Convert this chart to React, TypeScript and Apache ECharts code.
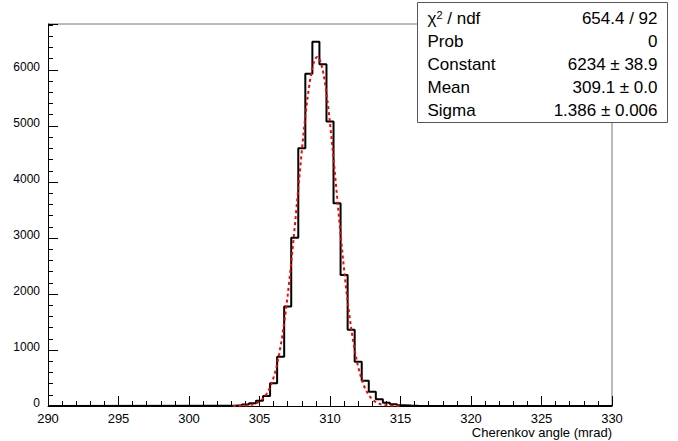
import * as echarts from 'echarts';
import { useEffect, useRef } from 'react';

// bin centres (mrad), 0.5 mrad wide; counts
const binCenters = [302.5, 303, 303.5, 304, 304.5, 305, 305.5, 306, 306.5, 307, 307.5, 308, 308.5, 309,
  309.5, 310, 310.5, 311, 311.5, 312, 312.5, 313, 313.5, 314, 314.5, 315, 315.5, 316];
const binCounts = [3, 6, 12, 25, 50, 95, 180, 405, 880, 1775, 3005, 4600, 5930, 6505,
  6100, 5080, 3620, 2340, 1360, 790, 450, 255, 120, 60, 30, 15, 8, 4];
const binWidth = 0.5;
const fitConstant = 6234;
const fitMean = 309.1;
const fitSigma = 1.386;
const statRows = [
  ['{l|χ}{s|2}{l| / ndf}', '654.4 / 92'],
  ['Prob', '0'],
  ['Constant', '6234 ± 38.9'],
  ['Mean', '309.1 ± 0.0'],
  ['Sigma', '1.386 ± 0.006'],
];

export default function App() {
  const ref = useRef<HTMLDivElement>(null);

  useEffect(() => {
    const el = ref.current;
    if (!el) return undefined;
    const chart = echarts.init(el, undefined, { renderer: 'svg' });

    const steps: number[][] = [[290, 0]];
    binCenters.forEach((c, i) => {
      steps.push([c - binWidth / 2, binCounts[i]], [c + binWidth / 2, binCounts[i]]);
    });
    steps.push([330, 0]);
    const fit: number[][] = [];
    for (let x = 290; x <= 330.001; x += 0.1) {
      const y = fitConstant * Math.exp(-0.5 * ((x - fitMean) / fitSigma) ** 2);
      if (y > 0.5) fit.push([x, y]);
    }

    const font = 'Liberation Sans, Arial, sans-serif';
    chart.setOption({
      animation: false,
      grid: { left: 48, right: 66, top: 24, bottom: 35 },
      xAxis: {
        type: 'value', min: 290, max: 330, interval: 5,
        name: 'Cherenkov angle (mrad)', nameLocation: 'end', nameGap: 0,
        nameTextStyle: { fontFamily: font, fontSize: 13, color: '#000', align: 'right', verticalAlign: 'top', padding: [20, 0, 0, 0] },
        axisLine: { lineStyle: { color: '#000' } },
        axisTick: { inside: true, length: 10, lineStyle: { color: '#000' } },
        minorTick: { show: true, splitNumber: 5, length: 5, lineStyle: { color: '#000' } },
        axisLabel: { fontFamily: font, fontSize: 13, color: '#000', margin: 6 },
        splitLine: { show: false },
      },
      yAxis: {
        type: 'value', min: 0, max: 6820, interval: 1000,
        axisLine: { show: true, lineStyle: { color: '#000' } },
        axisTick: { inside: true, length: 10, lineStyle: { color: '#000' } },
        minorTick: { show: true, splitNumber: 5, length: 5, lineStyle: { color: '#000' } },
        axisLabel: {
          fontFamily: font, fontSize: 12, color: '#000', margin: 8, showMaxLabel: false,
          formatter: (v: number) => String(v),
          verticalAlign: 'bottom', padding: [0, 0, -3, 0],
        },
        splitLine: { show: false },
      },
      graphic: [
        { type: 'line', shape: { x1: 48, y1: 24, x2: 612, y2: 24 }, style: { stroke: '#777', lineWidth: 1 } },
        { type: 'line', shape: { x1: 612, y1: 24, x2: 612, y2: 406 }, style: { stroke: '#777', lineWidth: 1 } },
        {
          type: 'group', left: 417, top: 2, children: [
            { type: 'rect', shape: { x: 0, y: 0, width: 250, height: 120 }, style: { fill: '#fff', stroke: '#555', lineWidth: 1 } },
            ...statRows.flatMap(([k, v], i) => [
              {
                type: 'text', x: 10, y: 16 + i * 23,
                style: {
                  text: k, fontFamily: font, fontSize: 17, fill: '#000', verticalAlign: 'middle',
                  rich: { l: { fontFamily: font, fontSize: 17 }, s: { fontFamily: font, fontSize: 11, verticalAlign: 'top', padding: [0, 0, 8, 0] } },
                },
              },
              {
                type: 'text', x: 240, y: 16 + i * 23,
                style: { text: v, fontFamily: font, fontSize: 17, fill: '#000', align: 'right', verticalAlign: 'middle' },
              },
            ]),
          ],
        },
      ],
      series: [
        {
          type: 'line', data: steps, symbol: 'none', silent: true,
          lineStyle: { color: '#000', width: 2 },
        },
        {
          type: 'line', data: fit, symbol: 'none', silent: true, smooth: false,
          lineStyle: { color: '#f00', width: 2, type: [3, 3] },
        },
      ],
    });
    return () => chart.dispose();
  }, []);

  return <div ref={ref} style={{ position: 'fixed', left: 0, top: 0, width: 678, height: 441, background: '#fff' }} />;
}
